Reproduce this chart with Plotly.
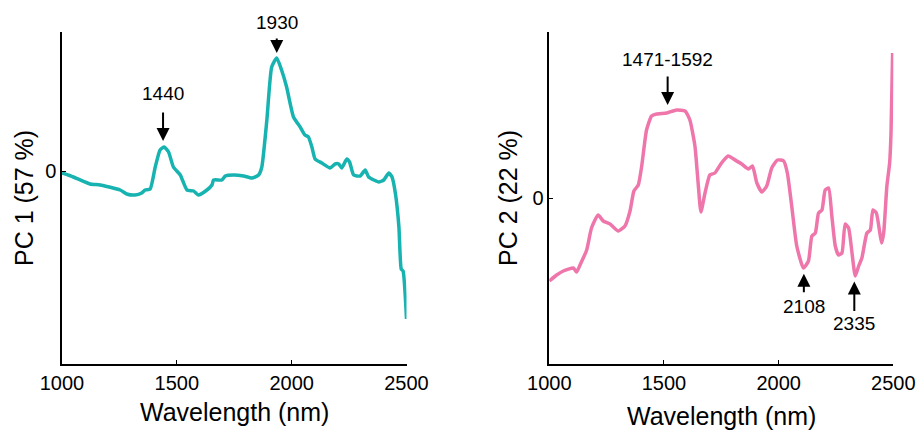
import plotly.graph_objects as go

# PC1 loadings (arbitrary units)
pc1_wl = [1000, 1049, 1122, 1166, 1253, 1282, 1318, 1347, 1362, 1384, 1406, 1427, 1445, 1464, 1485,
          1515, 1544, 1573, 1594, 1631, 1653, 1660, 1696, 1711, 1747, 1791, 1827, 1856, 1870, 1892,
          1913, 1935, 1956, 1978, 2008, 2037, 2058, 2073, 2088, 2102, 2131, 2167, 2189, 2205, 2218,
          2240, 2252, 2270, 2298, 2320, 2335, 2358, 2379, 2401, 2423, 2437, 2452, 2467, 2477, 2485, 2500]
pc1_val = [-0.02, -0.06, -0.13, -0.14, -0.19, -0.23, -0.24, -0.22, -0.19, -0.18, 0.04, 0.21, 0.24, 0.19, 0.04,
           -0.04, -0.19, -0.20, -0.24, -0.19, -0.14, -0.09, -0.09, -0.05, -0.04, -0.05, -0.07, -0.04, 0.04, 0.51,
           1.04, 1.13, 1.01, 0.84, 0.54, 0.44, 0.36, 0.34, 0.24, 0.12, 0.08, 0.03, 0.07, 0.07, 0.03,
           0.12, 0.09, -0.04, -0.05, 0.01, -0.06, -0.09, -0.11, -0.09, -0.02, -0.06, -0.23, -0.56, -0.98, -1.00, -1.48]

# PC2 loadings (arbitrary units)
pc2_wl = [1000, 1032, 1061, 1105, 1119, 1134, 1163, 1184, 1213, 1235, 1265, 1301, 1330, 1352, 1369, 1388,
          1403, 1424, 1446, 1468, 1512, 1555, 1592, 1613, 1635, 1650, 1661, 1679, 1700, 1722, 1751, 1780,
          1810, 1839, 1868, 1886, 1905, 1927, 1948, 1970, 1995, 2022, 2038, 2057, 2079, 2108, 2130, 2145,
          2160, 2174, 2189, 2203, 2218, 2232, 2247, 2261, 2276, 2290, 2305, 2320, 2334, 2349, 2363, 2385,
          2400, 2411, 2426, 2440, 2449, 2458, 2472, 2484, 2490, 2497]
pc2_val = [-0.83, -0.77, -0.73, -0.70, -0.74, -0.67, -0.52, -0.30, -0.17, -0.23, -0.26, -0.33, -0.28, -0.13, 0.07, 0.13,
           0.32, 0.68, 0.82, 0.84, 0.85, 0.88, 0.87, 0.78, 0.52, 0.12, -0.14, 0.05, 0.23, 0.25, 0.35, 0.42,
           0.38, 0.34, 0.29, 0.32, 0.15, 0.06, 0.12, 0.30, 0.38, 0.37, 0.25, -0.08, -0.48, -0.70, -0.63, -0.38,
           -0.35, -0.15, -0.12, 0.08, 0.10, -0.18, -0.48, -0.57, -0.55, -0.26, -0.30, -0.55, -0.78, -0.68, -0.60, -0.35,
           -0.32, -0.12, -0.15, -0.33, -0.45, -0.35, 0.12, 0.35, 0.65, 1.45]

x_ticks = [1000, 1500, 2000, 2500]
# (label, wavelength, arrow-tip value)
pc1_marks = [("1440", 1440, 0.30), ("1930", 1935, 1.18)]
pc2_marks = [("1471-1592", 1516, 0.93), ("2108", 2110, -0.757), ("2335", 2330, -0.834)]
# arrow lengths / label offsets in pixels (style)
arrow_len = {"1440": -30, "1930": -16, "1471-1592": -30, "2108": 20, "2335": 31}
label_shift = {"1440": 48, "1930": 31, "1471-1592": 46, "2108": -33, "2335": -42}

TEAL = "#17B3B1"
PINK = "#EF76AB"
FONT = "Liberation Sans, Arial, sans-serif"

fig = go.Figure()
fig.add_trace(go.Scatter(x=pc1_wl, y=pc1_val, mode="lines",
                         line=dict(color=TEAL, width=3.5, shape="spline", smoothing=0.5),
                         xaxis="x", yaxis="y", showlegend=False))
fig.add_trace(go.Scatter(x=pc2_wl, y=pc2_val, mode="lines",
                         line=dict(color=PINK, width=3.5, shape="spline", smoothing=0.5),
                         xaxis="x2", yaxis="y2", showlegend=False))

W, H = 919, 432
bottom = (H - 364) / H
top = (H - 32) / H

xcommon = dict(range=[1000, 2500], tickvals=x_ticks, ticks="inside", ticklen=4, tickwidth=1.2,
               showline=True, linecolor="black", linewidth=1.5, showgrid=False, zeroline=False,
               automargin=False,
               tickfont=dict(size=20, color="black", family=FONT), tickcolor="black")
ycommon = dict(tickvals=[0], ticktext=["0"], ticks="inside", ticklen=4, tickwidth=1.2,
               showline=True, linecolor="black", linewidth=1.5, showgrid=False, zeroline=False,
               automargin=False,
               tickfont=dict(size=20, color="black", family=FONT), tickcolor="black")

fig.update_layout(
    width=W, height=H,
    margin=dict(l=0, r=0, t=0, b=0, autoexpand=False),
    paper_bgcolor="white", plot_bgcolor="white",
    font=dict(family=FONT, color="black"),
    xaxis=dict(domain=[62 / W, 406.5 / W], anchor="y", **xcommon),
    yaxis=dict(domain=[bottom, top], anchor="x", range=[-1.93, 1.39], **ycommon),
    xaxis2=dict(domain=[549.3 / W, 893.3 / W], anchor="y2", **xcommon),
    yaxis2=dict(domain=[bottom, top], anchor="x2", range=[-1.66, 1.66], **ycommon),
)

ann = []
def mark(xr, yr, t, x, tip):
    ann.append(dict(xref=xr, yref=yr, x=x, y=tip, ax=0, ay=arrow_len[t], text="", showarrow=True,
                    arrowhead=2, arrowsize=1.3, arrowwidth=2, arrowcolor="black"))
    ann.append(dict(xref=xr, yref=yr, x=x, y=tip, yshift=label_shift[t], text=t, showarrow=False,
                    font=dict(size=19, color="black", family=FONT), xanchor="center", yanchor="middle"))

for t, x, tip in pc1_marks:
    mark("x", "y", t, x, tip)
for t, x, tip in pc2_marks:
    mark("x2", "y2", t, x, tip)

# axis titles
tfont = dict(size=25, color="black", family=FONT)
ann.append(dict(xref="paper", yref="paper", x=234 / W, y=(H - 412) / H, text="Wavelength (nm)",
                xanchor="center", yanchor="middle", showarrow=False, font=tfont))
ann.append(dict(xref="paper", yref="paper", x=721 / W, y=(H - 416) / H, text="Wavelength (nm)",
                xanchor="center", yanchor="middle", showarrow=False, font=tfont))
ann.append(dict(xref="paper", yref="paper", x=24 / W, y=(H - 198) / H, text="PC 1 (57 %)", textangle=-90,
                xanchor="center", yanchor="middle", showarrow=False, font=tfont))
ann.append(dict(xref="paper", yref="paper", x=508 / W, y=(H - 198) / H, text="PC 2 (22 %)", textangle=-90,
                xanchor="center", yanchor="middle", showarrow=False, font=tfont))
fig.update_layout(annotations=ann)

fig.write_html("out.html")
